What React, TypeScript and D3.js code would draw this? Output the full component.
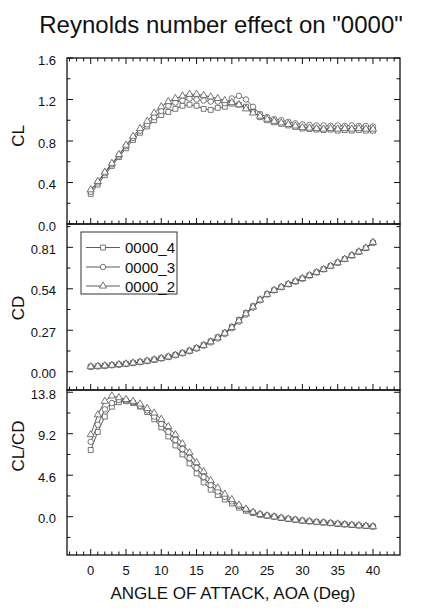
import React from "react";
import * as d3 from "d3";

// ---------- data ----------
const AOA = [0,1,2,3,4,5,6,7,8,9,10,11,12,13,14,15,16,17,18,19,20,21,22,23,24,25,26,27,28,29,30,31,32,33,34,35,36,37,38,39,40];

const SERIES_NAMES = ["0000_4", "0000_3", "0000_2"];

const CL_4 = [0.29,0.38,0.47,0.56,0.645,0.73,0.81,0.88,0.94,1.00,1.05,1.08,1.11,1.14,1.15,1.14,1.11,1.10,1.12,1.13,1.16,1.15,1.13,1.08,1.03,1.00,0.98,0.965,0.95,0.935,0.92,0.915,0.91,0.905,0.91,0.90,0.905,0.90,0.905,0.90,0.90];
const CL_3 = [0.31,0.40,0.49,0.575,0.66,0.75,0.83,0.90,0.96,1.03,1.09,1.14,1.17,1.19,1.21,1.20,1.19,1.18,1.18,1.165,1.21,1.235,1.20,1.13,1.06,1.03,1.01,1.0,0.985,0.97,0.96,0.955,0.95,0.95,0.945,0.95,0.945,0.95,0.945,0.945,0.94];
const CL_2 = [0.33,0.41,0.50,0.585,0.67,0.76,0.845,0.92,0.99,1.07,1.13,1.18,1.21,1.235,1.25,1.25,1.24,1.225,1.21,1.19,1.17,1.15,1.11,1.07,1.04,1.01,0.99,0.975,0.96,0.945,0.93,0.925,0.92,0.915,0.92,0.915,0.92,0.915,0.92,0.915,0.915];

const CD_4 = [0.033,0.036,0.039,0.043,0.047,0.052,0.058,0.064,0.071,0.079,0.088,0.098,0.109,0.122,0.137,0.155,0.175,0.198,0.224,0.254,0.292,0.337,0.382,0.426,0.47,0.505,0.53,0.55,0.57,0.588,0.607,0.627,0.647,0.667,0.688,0.71,0.733,0.757,0.781,0.805,0.84];
const CD_3 = [0.032,0.035,0.038,0.042,0.046,0.051,0.056,0.062,0.069,0.077,0.086,0.096,0.107,0.119,0.133,0.150,0.169,0.191,0.216,0.246,0.283,0.326,0.372,0.418,0.465,0.503,0.532,0.552,0.571,0.589,0.608,0.628,0.648,0.668,0.689,0.711,0.734,0.758,0.782,0.806,0.842];
const CD_2 = [0.033,0.036,0.039,0.043,0.047,0.051,0.057,0.063,0.070,0.078,0.087,0.097,0.108,0.121,0.135,0.153,0.172,0.195,0.221,0.251,0.288,0.332,0.378,0.422,0.468,0.504,0.531,0.551,0.570,0.588,0.607,0.627,0.647,0.667,0.688,0.71,0.733,0.757,0.781,0.806,0.843];

const CLCD_4 = [7.4,9.4,11.1,12.2,12.7,12.8,12.6,12.2,11.6,10.8,9.9,8.9,7.9,6.9,5.9,4.8,3.8,3.0,2.4,1.9,1.45,1.0,0.65,0.4,0.2,0.1,0.0,-0.15,-0.25,-0.35,-0.45,-0.52,-0.6,-0.65,-0.72,-0.8,-0.86,-0.92,-0.98,-1.03,-1.1];
const CLCD_3 = [8.3,10.2,11.9,12.6,12.95,12.9,12.7,12.3,11.8,11.1,10.3,9.4,8.5,7.5,6.5,5.4,4.4,3.5,2.8,2.2,1.7,1.2,0.8,0.5,0.3,0.15,0.02,-0.12,-0.23,-0.33,-0.43,-0.5,-0.58,-0.64,-0.7,-0.78,-0.84,-0.9,-0.96,-1.02,-1.08];
const CLCD_2 = [9.1,11.3,12.8,13.4,13.2,13.0,12.8,12.5,12.0,11.5,10.8,10.0,9.1,8.1,7.1,6.0,5.0,4.0,3.2,2.5,1.9,1.3,0.85,0.5,0.25,0.1,-0.02,-0.15,-0.26,-0.36,-0.46,-0.53,-0.6,-0.66,-0.73,-0.8,-0.87,-0.93,-0.99,-1.04,-1.1];

const X_TICKS = [0, 5, 10, 15, 20, 25, 30, 35, 40];
const CL_TICKS = [0.0, 0.4, 0.8, 1.2, 1.6];
const CD_TICKS = [0.0, 0.27, 0.54, 0.81];
const CLCD_TICKS = [0.0, 4.6, 9.2, 13.8];

// ---------- layout ----------
const W = 443, H = 615;
const LEFT = 67, RIGHT = 400;
const FONT = "'Liberation Sans', Arial, Helvetica, sans-serif";

const x = d3.scaleLinear().domain([-3.36, 43.83]).range([LEFT, RIGHT]);

type Panel = {
  label: string;
  top: number; bottom: number;
  domain: [number, number];
  ticks: number[];
  step: number;
  digits: number;
  data: number[][];
  labelY: number;
  showTopTicks: boolean;
};

const PANELS: Panel[] = [
  { label: "CL", top: 58, bottom: 224, domain: [0, 1.6], ticks: CL_TICKS, step: 0.2, digits: 1, data: [CL_4, CL_3, CL_2], labelY: 136, showTopTicks: true },
  { label: "CD", top: 224, bottom: 390, domain: [-0.119, 0.962], ticks: CD_TICKS, step: 0.135, digits: 2, data: [CD_4, CD_3, CD_2], labelY: 308, showTopTicks: false },
  { label: "CL/CD", top: 390, bottom: 555, domain: [-4.25, 14.05], ticks: CLCD_TICKS, step: 2.3, digits: 1, data: [CLCD_4, CLCD_3, CLCD_2], labelY: 446, showTopTicks: false },
];

const MARK_STROKE = "#555";
const LINE_STROKE = "#333";

function Marker({ kind, cx, cy }: { kind: number; cx: number; cy: number }) {
  const types = [d3.symbolSquare, d3.symbolCircle, d3.symbolTriangle];
  const sizes = [24, 24, 22];
  const p = d3.symbol().type(types[kind]).size(sizes[kind])();
  return (
    <path d={p || ""} transform={`translate(${cx},${cy})`} fill="white" stroke={MARK_STROKE} strokeWidth={0.8} />
  );
}

function PanelView({ p }: { p: Panel }) {
  const y = d3.scaleLinear().domain(p.domain).range([p.bottom, p.top]);
  const minors: number[] = [];
  for (let v = Math.ceil(p.domain[0] / p.step) * p.step; v <= p.domain[1] + 1e-9; v += p.step) {
    minors.push(+v.toFixed(4));
  }
  const xMinor: number[] = [];
  for (let v = -3; v <= 43; v++) xMinor.push(v);
  const line = d3.line<number>().x((_, i) => x(AOA[i])).y((d) => y(d));
  const MAJ = 6, MIN = 3.5;
  return (
    <g>
      {/* y ticks both sides, inward */}
      {minors.map((v) => {
        const isMajor = p.ticks.some((t) => Math.abs(t - v) < 1e-6) || Math.abs(v - p.domain[1]) < 1e-6;
        const len = isMajor ? MAJ : MIN;
        const yy = y(v);
        return (
          <g key={"y" + v}>
            <line x1={LEFT} x2={LEFT + len} y1={yy} y2={yy} stroke="#111" strokeWidth={1} />
            <line x1={RIGHT} x2={RIGHT - len} y1={yy} y2={yy} stroke="#111" strokeWidth={1} />
          </g>
        );
      })}
      {/* x ticks */}
      {xMinor.map((v) => {
        const isMajor = v % 5 === 0;
        const len = isMajor ? MAJ : MIN;
        const xx = x(v);
        return (
          <g key={"x" + v}>
            <line x1={xx} x2={xx} y1={p.bottom} y2={p.bottom - len} stroke="#111" strokeWidth={1} />
            {p.showTopTicks && <line x1={xx} x2={xx} y1={p.top} y2={p.top + len} stroke="#111" strokeWidth={1} />}
          </g>
        );
      })}
      {/* tick labels */}
      {p.ticks.map((t) => (
        <text key={"l" + t} x={56} y={y(t) + 2} textAnchor="end" dominantBaseline="central" fontSize={13} fontFamily={FONT} fill="#111">
          {t.toFixed(p.digits)}
        </text>
      ))}
      {/* axis title */}
      <text transform={`translate(24,${p.labelY}) rotate(-90)`} textAnchor="middle" fontSize={17} fontFamily={FONT} fill="#111">
        {p.label}
      </text>
      {/* series lines */}
      {p.data.map((s, k) => (
        <path key={"s" + k} d={line(s) || ""} fill="none" stroke={LINE_STROKE} strokeWidth={0.8} />
      ))}
      {/* markers */}
      {p.data.map((s, k) => (
        <g key={"m" + k}>
          {s.map((v, i) => (
            <Marker key={i} kind={k} cx={x(AOA[i])} cy={y(v)} />
          ))}
        </g>
      ))}
      {/* frame */}
      <rect x={LEFT} y={p.top} width={RIGHT - LEFT} height={p.bottom - p.top} fill="none" stroke="#111" strokeWidth={1.3} />
    </g>
  );
}

function Legend() {
  const bx = 81, by = 232, bw = 96, bh = 62;
  const rows = [247.5, 267, 286];
  return (
    <g>
      <rect x={bx} y={by} width={bw} height={bh} fill="white" stroke="#333" strokeWidth={1} />
      {SERIES_NAMES.map((n, k) => (
        <g key={n}>
          <line x1={86} x2={120} y1={rows[k]} y2={rows[k]} stroke={LINE_STROKE} strokeWidth={0.8} />
          <Marker kind={k} cx={103} cy={rows[k]} />
          <text x={125} y={rows[k]} dominantBaseline="central" fontSize={15} fontFamily={FONT} fill="#111">{n}</text>
        </g>
      ))}
    </g>
  );
}

export default function App() {
  return (
    <svg width={W} height={H} style={{ position: "absolute", left: 0, top: 0, background: "white" }}>
      <rect x={0} y={0} width={W} height={H} fill="white" />
      <text x={221} y={33} textAnchor="middle" fontSize={24} fontFamily={FONT} fill="#111">
        Reynolds number effect on "0000"
      </text>
      {PANELS.map((p) => (
        <PanelView key={p.label} p={p} />
      ))}
      <Legend />
      {X_TICKS.map((t) => (
        <text key={t} x={x(t)} y={570} textAnchor="middle" dominantBaseline="central" fontSize={13} fontFamily={FONT} fill="#111">
          {t}
        </text>
      ))}
      <text x={233} y={599} textAnchor="middle" fontSize={17} fontFamily={FONT} fill="#111">
        ANGLE OF ATTACK, AOA (Deg)
      </text>
    </svg>
  );
}
